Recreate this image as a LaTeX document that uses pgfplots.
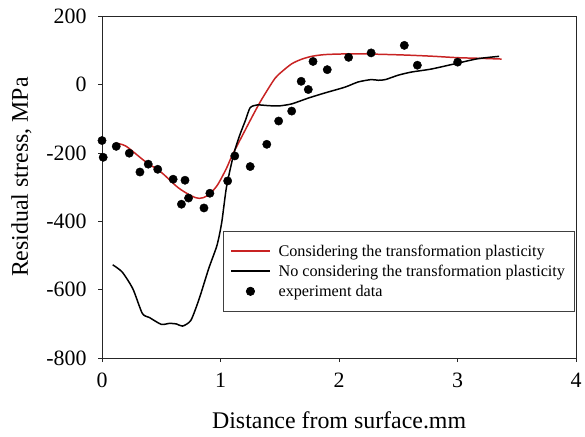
\documentclass[border=0pt]{standalone}
\usepackage{pgfplots}
\pgfplotsset{compat=1.18}
\usepackage{fontspec}
\setmainfont{Liberation Serif}
\definecolor{redline}{RGB}{200,35,35}
\pgfplotsset{
  lineleg/.style={legend image code/.code={\draw[#1, line width=1.6pt] (0pt,0.5pt) -- (39pt,0.5pt); \path (45pt,0pt);}},
  markleg/.style={legend image code/.code={\fill[black] (19.5pt,0pt) circle[radius=4.2pt]; \path (0pt,0pt) (45pt,0pt);}},
}
\begin{document}
\begin{tikzpicture}
\begin{axis}[name=ax, scale only axis, width=476.5pt, height=344pt,
  xmin=0, xmax=4, ymin=-800, ymax=200,
  xtick={0,1,2,3,4}, ytick={-800,-600,-400,-200,0,200},
  xtick pos=left, ytick pos=left,
  tick align=outside, major tick length=4pt,
  axis line style={black!85, line width=0.7pt},
  every tick/.style={black!85, line width=0.7pt},
  tick label style={font=\fontsize{22}{25}\selectfont},
  xticklabel style={yshift=-7pt},
  yticklabel style={xshift=-8pt},
  /pgf/number format/assume math mode=true,
  xlabel={Distance from surface.mm},
  ylabel={Residual stress, MPa},
  label style={font=\fontsize{24}{28}\selectfont},
  xlabel style={yshift=-17pt},
  ylabel style={yshift=8pt, xshift=10pt},
  clip=false,
  legend style={at={(0.255,0.372)}, anchor=north west, draw=black!75, line width=0.7pt,
    font=\fontsize{16.3}{19}\selectfont, row sep=3pt, inner xsep=7pt, inner ysep=12pt,
    cells={anchor=west}},
  legend cell align=left,
]
\addplot[redline, line width=1.5pt, smooth, tension=0.5, lineleg={redline, line width=2pt}] coordinates {
(0.11,-172) (0.20,-180) (0.36,-224) (0.50,-257) (0.64,-301) (0.75,-325) (0.82,-333)
(0.89,-325) (0.97,-296) (1.05,-245) (1.10,-206) (1.24,-112) (1.32,-60) (1.38,-25)
(1.46,18) (1.52,38) (1.60,60) (1.68,73) (1.77,82) (1.88,87) (2.05,89) (2.20,89)
(2.44,87) (2.61,85) (2.80,82) (3.00,78) (3.20,76) (3.37,74)};
\addlegendentry{Considering the transformation plasticity}
\addplot[black, line width=1.5pt, smooth, tension=0.4, lineleg=black] coordinates {
(0.09,-527) (0.17,-548) (0.26,-597) (0.34,-669) (0.40,-681) (0.50,-701) (0.57,-698)
(0.63,-700) (0.68,-706) (0.75,-689) (0.82,-626) (0.90,-538) (0.97,-470) (1.01,-403)
(1.05,-300) (1.11,-205) (1.16,-150) (1.21,-105) (1.25,-68) (1.31,-60) (1.40,-62)
(1.49,-63) (1.60,-57) (1.74,-40) (1.88,-25) (2.05,-8) (2.16,7) (2.27,14) (2.33,12)
(2.39,14) (2.50,27) (2.61,36) (2.78,45) (3.00,62) (3.17,75) (3.35,82)};
\addlegendentry{No considering the transformation plasticity}
\addplot[only marks, mark=*, mark size=4.2pt, black, markleg] coordinates {
(0.00,-164) (0.01,-213) (0.12,-181) (0.23,-201) (0.32,-256) (0.39,-233) (0.47,-248)
(0.60,-277) (0.70,-280) (0.67,-350) (0.73,-332) (0.86,-361) (0.91,-318) (1.06,-282)
(1.12,-209) (1.25,-240) (1.39,-175) (1.49,-107) (1.60,-78) (1.68,9) (1.74,-15)
(1.78,67) (1.90,43) (2.08,79) (2.27,92) (2.55,114) (2.66,56) (3.00,65)};
\addlegendentry{experiment data}
\end{axis}
\path[use as bounding box] ([shift={(-102.5pt,-79pt)}]ax.south west) rectangle ([shift={(6pt,16pt)}]ax.north east);
\end{tikzpicture}
\end{document}
